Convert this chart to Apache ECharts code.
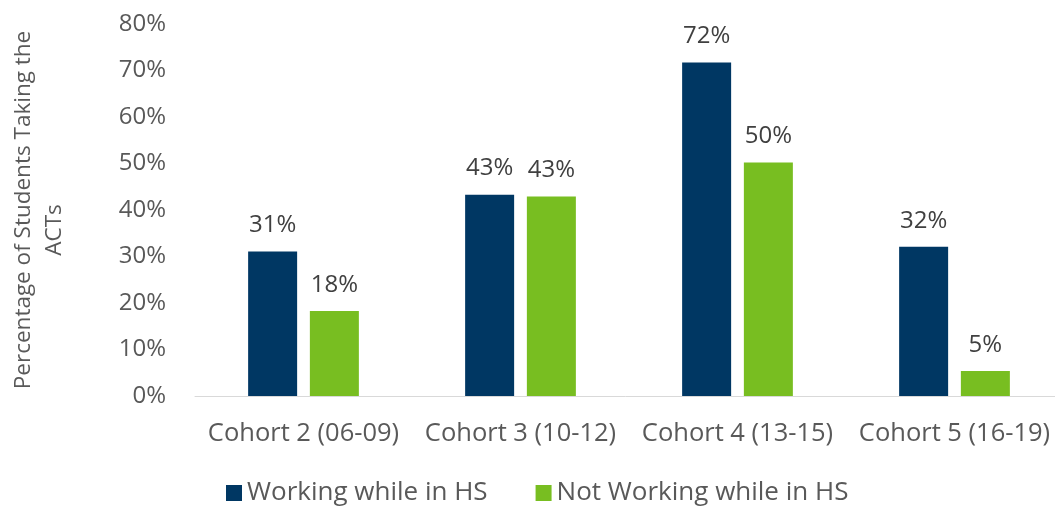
<!DOCTYPE html>
<html>
<head>
<meta charset="utf-8">
<script src="https://cdn.jsdelivr.net/npm/echarts@6/dist/echarts.min.js"></script>
<style>html,body{margin:0;padding:0;background:#fff}#c{width:1055px;height:506px}</style>
</head>
<body>
<div id="c"></div>
<script>
const categories = ['Cohort 2 (06-09)', 'Cohort 3 (10-12)', 'Cohort 4 (13-15)', 'Cohort 5 (16-19)'];
const working = [31.1, 43.3, 71.7, 32.1];
const notWorking = [18.3, 42.9, 50.2, 5.4];
const seriesNames = ['Working while in HS', 'Not Working while in HS'];
const yTicks = [0, 10, 20, 30, 40, 50, 60, 70, 80];
const yTitle = ['Percentage of Students Taking the', 'ACTs'];

const font = '"Open Sans", sans-serif';
const chart = echarts.init(document.getElementById('c'));
const lbl = {
  show: true, position: 'top', distance: 14,
  color: '#404040', fontFamily: font, fontSize: 24,
  formatter: p => Math.round(p.value) + '%'
};
chart.setOption({
  animation: false,
  textStyle: { fontFamily: font },
  legend: {
    data: seriesNames, top: 475, left: 221,
    itemWidth: 16, itemHeight: 16, itemGap: 48, icon: 'rect',
    textStyle: { color: '#595959', fontSize: 26, fontFamily: font, padding: [0, 0, 0, 0] }
  },
  graphic: [
    { type: 'text', x: 24, y: 210, rotation: Math.PI / 2,
      style: { text: yTitle[0], fill: '#595959', font: '22.5px "Open Sans", sans-serif', align: 'center', verticalAlign: 'middle' } },
    { type: 'text', x: 55, y: 230, rotation: Math.PI / 2,
      style: { text: yTitle[1], fill: '#595959', font: '22.5px "Open Sans", sans-serif', align: 'center', verticalAlign: 'middle' } }
  ],
  grid: { left: 195, right: -8, top: 24, bottom: 110, containLabel: false, outerBoundsMode: 'none' },
  xAxis: {
    type: 'category', data: categories,
    axisLine: { lineStyle: { color: '#d9d9d9', width: 1 } },
    axisTick: { show: false },
    axisLabel: { color: '#595959', fontSize: 25.5, fontFamily: font, margin: 25, interval: 0, hideOverlap: false }
  },
  yAxis: {
    type: 'value', min: yTicks[0], max: yTicks[yTicks.length - 1], interval: 10,
    axisLine: { show: false }, axisTick: { show: false },
    splitLine: { show: false },
    axisLabel: { color: '#595959', fontSize: 24, fontFamily: font, margin: 29, formatter: v => v + '%' }
  },
  series: [
    { name: seriesNames[0], type: 'bar', data: working, barWidth: 49, barGap: '26%',
      itemStyle: { color: '#003763' }, label: lbl },
    { name: seriesNames[1], type: 'bar', data: notWorking, barWidth: 49,
      itemStyle: { color: '#78be21' }, label: lbl }
  ]
});
</script>
</body>
</html>
